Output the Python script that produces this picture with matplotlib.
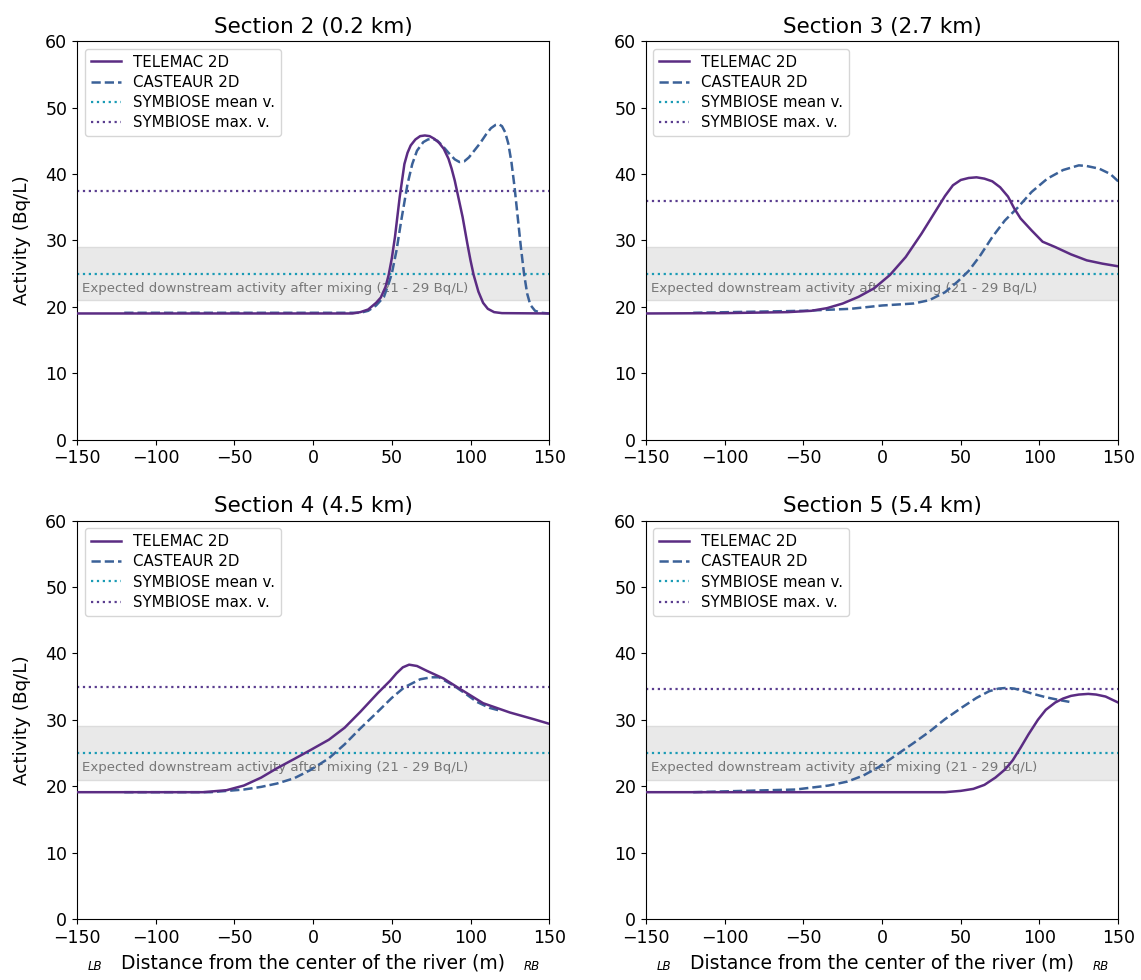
import matplotlib
matplotlib.use("Agg")
import matplotlib.pyplot as plt

# section titles and SYMBIOSE reference values
titles = ["Section 2 (0.2 km)", "Section 3 (2.7 km)", "Section 4 (4.5 km)", "Section 5 (5.4 km)"]
symbiose_mean = [25, 25, 25, 25]
symbiose_max = [37.5, 36.0, 35.0, 34.6]
band_low, band_high = 21, 29

# TELEMAC 2D profiles (distance m, activity Bq/L)
tel_x = [
    [-150, 25, 30, 35, 40, 43, 46, 48, 50, 52, 55, 58, 60, 62, 65, 68, 71, 74, 77, 80, 83, 86, 88, 90, 92, 95,
     98, 100, 102, 105, 108, 111, 115, 120, 150],
    [-150, -100, -60, -45, -35, -25, -15, -5, 5, 15, 25, 35, 40, 45, 50, 55, 60, 65, 70, 75, 80, 84, 88, 95,
     102, 110, 120, 130, 140, 150],
    [-150, -70, -55, -44, -33, -23, -12, -2, 10, 20, 30, 41, 49, 53, 57, 61, 66, 72, 83, 93, 108, 125, 140, 150],
    [-150, 40, 50, 58, 65, 72, 78, 83, 88, 93, 99, 104, 110, 115, 120, 125, 131, 136, 142, 150],
]
tel_y = [
    [19, 19, 19.2, 19.6, 20.6, 21.4, 23.0, 24.8, 27.3, 30.5, 36.5, 41.5, 43.2, 44.3, 45.2, 45.7, 45.8, 45.7,
     45.3, 44.7, 43.8, 42.3, 40.8, 39.0, 36.8, 33.5, 29.5, 27.0, 24.8, 22.3, 20.6, 19.7, 19.2, 19.05, 19],
    [19, 19.05, 19.2, 19.4, 19.8, 20.5, 21.5, 22.8, 24.8, 27.5, 31.0, 34.8, 36.7, 38.3, 39.1, 39.4, 39.5, 39.3,
     38.9, 38.0, 36.6, 34.8, 33.3, 31.5, 29.8, 29.0, 27.9, 27.0, 26.5, 26.1],
    [19.1, 19.1, 19.4, 20.1, 21.3, 22.7, 24.1, 25.4, 27.0, 28.8, 31.2, 34.0, 35.9, 37.0, 37.9, 38.3, 38.1,
     37.4, 36.2, 34.7, 32.5, 31.1, 30.1, 29.4],
    [19.1, 19.1, 19.3, 19.6, 20.2, 21.3, 22.5, 23.9, 25.8, 27.8, 30.0, 31.5, 32.6, 33.2, 33.6, 33.8, 33.9,
     33.8, 33.5, 32.6],
]

# CASTEAUR 2D profiles
cas_x = [
    [-120, 30, 35, 40, 45, 48, 50, 53, 56, 60, 63, 66, 70, 73, 76, 79, 82, 86, 90, 93, 96, 99, 102, 106, 110,
     113, 116, 118, 120, 122, 124, 126, 128, 130, 132, 134, 136, 138, 141, 145, 150],
    [-120, -50, -20, 0, 20, 30, 40, 48, 55, 62, 70, 78, 86, 95, 105, 115, 125, 130, 138, 145, 150],
    [-120, -65, -44, -33, -23, -12, -2, 10, 20, 30, 41, 50, 58, 68, 75, 80, 89, 97, 104, 112, 120],
    [-120, -55, -34, -22, -12, -2, 9, 20, 30, 40, 51, 60, 68, 74, 79, 84, 89, 96, 104, 112, 119],
]
cas_y = [
    [19.1, 19.1, 19.4, 20.2, 21.5, 23.5, 25.0, 28.5, 33.0, 38.5, 41.5, 43.5, 44.8, 45.2, 45.3, 45.0, 44.3,
     43.2, 42.2, 41.8, 41.9, 42.5, 43.4, 44.6, 46.0, 46.9, 47.4, 47.5, 47.2, 46.3, 44.6, 41.8, 38.0, 33.5,
     29.0, 25.0, 22.0, 20.3, 19.4, 19.1, 19.0],
    [19.1, 19.4, 19.7, 20.2, 20.5, 21.0, 22.2, 23.8, 25.4, 27.6, 30.5, 33.0, 34.9, 37.3, 39.3, 40.6, 41.3,
     41.2, 40.8, 40.0, 38.9],
    [19.1, 19.1, 19.5, 19.9, 20.4, 21.2, 22.4, 24.2, 26.3, 28.7, 31.2, 33.3, 34.9, 36.1, 36.4, 36.4, 35.2,
     33.9, 32.7, 31.8, 31.3],
    [19.1, 19.5, 20.1, 20.7, 21.6, 22.9, 24.7, 26.5, 28.2, 30.1, 31.9, 33.3, 34.3, 34.7, 34.8, 34.7, 34.4,
     33.9, 33.4, 33.0, 32.7],
]

tel_color = "#5b2c83"
cas_color = "#3b6198"
mean_color = "#1a9bb5"
max_color = "#5a3d8f"

fig, axes = plt.subplots(2, 2, figsize=(11.41, 9.8), dpi=100)
fig.subplots_adjust(left=0.0675, right=0.980, top=0.958, bottom=0.0622,
                    wspace=0.205, hspace=0.203)

for i, ax in enumerate(axes.flat):
    ax.axhspan(band_low, band_high, facecolor="#e9e9e9", edgecolor="#dcdcdc", lw=1, zorder=0)
    ax.text(-147, 22.3, "Expected downstream activity after mixing (21 - 29 Bq/L)",
            fontsize=9.6, color="#777777", zorder=1)
    ax.plot(tel_x[i], tel_y[i], color=tel_color, lw=1.8, label="TELEMAC 2D", zorder=4)
    ax.plot(cas_x[i], cas_y[i], color=cas_color, lw=1.8, ls="--", label="CASTEAUR 2D", zorder=3)
    ax.axhline(symbiose_mean[i], color=mean_color, lw=1.6, ls=":", label="SYMBIOSE mean v.", zorder=2)
    ax.axhline(symbiose_max[i], color=max_color, lw=1.6, ls=":", label="SYMBIOSE max. v.", zorder=2)

    ax.set_xlim(-150, 150)
    ax.set_ylim(0, 60)
    ax.set_xticks([-150, -100, -50, 0, 50, 100, 150])
    ax.set_yticks([0, 10, 20, 30, 40, 50, 60])
    ax.tick_params(labelsize=12.5)
    ax.set_title(titles[i], fontsize=15.5)
    ax.legend(loc="upper left", fontsize=10.8, labelspacing=0.35)

    if i % 2 == 0:
        ax.set_ylabel("Activity (Bq/L)", fontsize=13.2, labelpad=10)
    if i >= 2:
        ax.set_xlabel("Distance from the center of the river (m)", fontsize=13.5, labelpad=5)
        ax.text(0.023, -0.118, "LB", transform=ax.transAxes, fontsize=8.5,
                style="italic", ha="left", va="center")
        ax.text(0.98, -0.118, "RB", transform=ax.transAxes, fontsize=8.5,
                style="italic", ha="right", va="center")

fig.savefig("out.png", dpi=100)
